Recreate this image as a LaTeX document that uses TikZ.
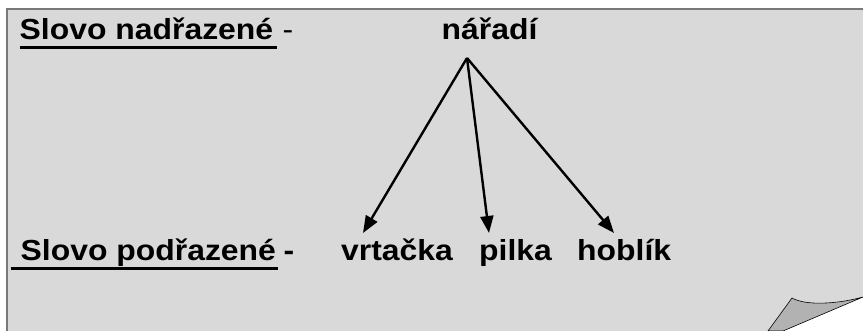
\documentclass[tikz,border=0pt]{standalone}
\usepackage{fontspec}
\setmainfont{Liberation Sans}[FakeStretch=1.1]
\usetikzlibrary{arrows.meta}
\definecolor{paper}{RGB}{217,217,217}
\definecolor{flap}{RGB}{178,178,178}
\definecolor{edge}{RGB}{120,120,120}
\tikzset{
  word/.style={anchor=base west, inner sep=0pt,
    font=\fontsize{29}{33}\selectfont\bfseries},
  plain/.style={anchor=base west, inner sep=0pt,
    font=\fontsize{29}{33}\selectfont},
  uline/.style={line width=3pt},
  branch/.style={line width=2.4pt, -{Triangle[length=17pt,width=13pt]}},
}

\begin{document}
\begin{tikzpicture}[x=1pt,y=1pt]

\newcommand\TOPY{-40}
\newcommand\LOWY{-261}

  \useasboundingbox (0,0) rectangle (863,-331);
  \fill[white] (0,0) rectangle (863,-331);

  %% sheet
  \fill[paper] (6.5,-9.5) -- (863,-9.5) -- (863,-297)
  .. controls (838,-304) and (806,-306) .. (792,-298)
  -- (768,-331) -- (6.5,-331) -- cycle;
  \draw[edge, line width=2pt] (6.5,-331) -- (6.5,-9.5) -- (863,-9.5);

  %% curl
  \draw[fill=flap, line width=0.6pt] (792,-298)
  .. controls (806,-306) and (838,-304) .. (863,-297)
  -- (783,-331) -- (768,-331) -- cycle;

  %% upper line
  \node[word] (upper) at (19.5,\TOPY) {Slovo nadřazené};
  \node[plain] (dashA) at (282.5,\TOPY) {-};
  \node[word] (naradi) at (441.5,\TOPY) {nářadí};

  %% lower line
  \node[word] (lower) at (20.5,\LOWY) {Slovo podřazené};
  \node[word] (dashB) at (283.5,\LOWY) {-};
  \node[word] (vrtacka) at (341,\LOWY) {vrtačka};
  \node[word] (pilka) at (479,\LOWY) {pilka};
  \node[word] (hoblik) at (577,\LOWY) {hoblík};

  %% underlines
  \draw[uline] ([yshift=-8pt]upper.base west)
  -- ([xshift=4pt,yshift=-8pt]upper.base east);
  \draw[uline] ([xshift=-10pt,yshift=-8pt]lower.base west)
  -- ([xshift=2pt,yshift=-8pt]lower.base east);

  %% arrows
  \coordinate (root) at (467,-58);
  \coordinate (tipV) at (363,-233);
  \coordinate (tipP) at (489,-233);
  \coordinate (tipH) at (614,-233);
  \draw[branch] (root) -- (tipV);
  \draw[branch] (root) -- (tipP);
  \draw[branch] (root) -- (tipH);

\end{tikzpicture}
\end{document}
